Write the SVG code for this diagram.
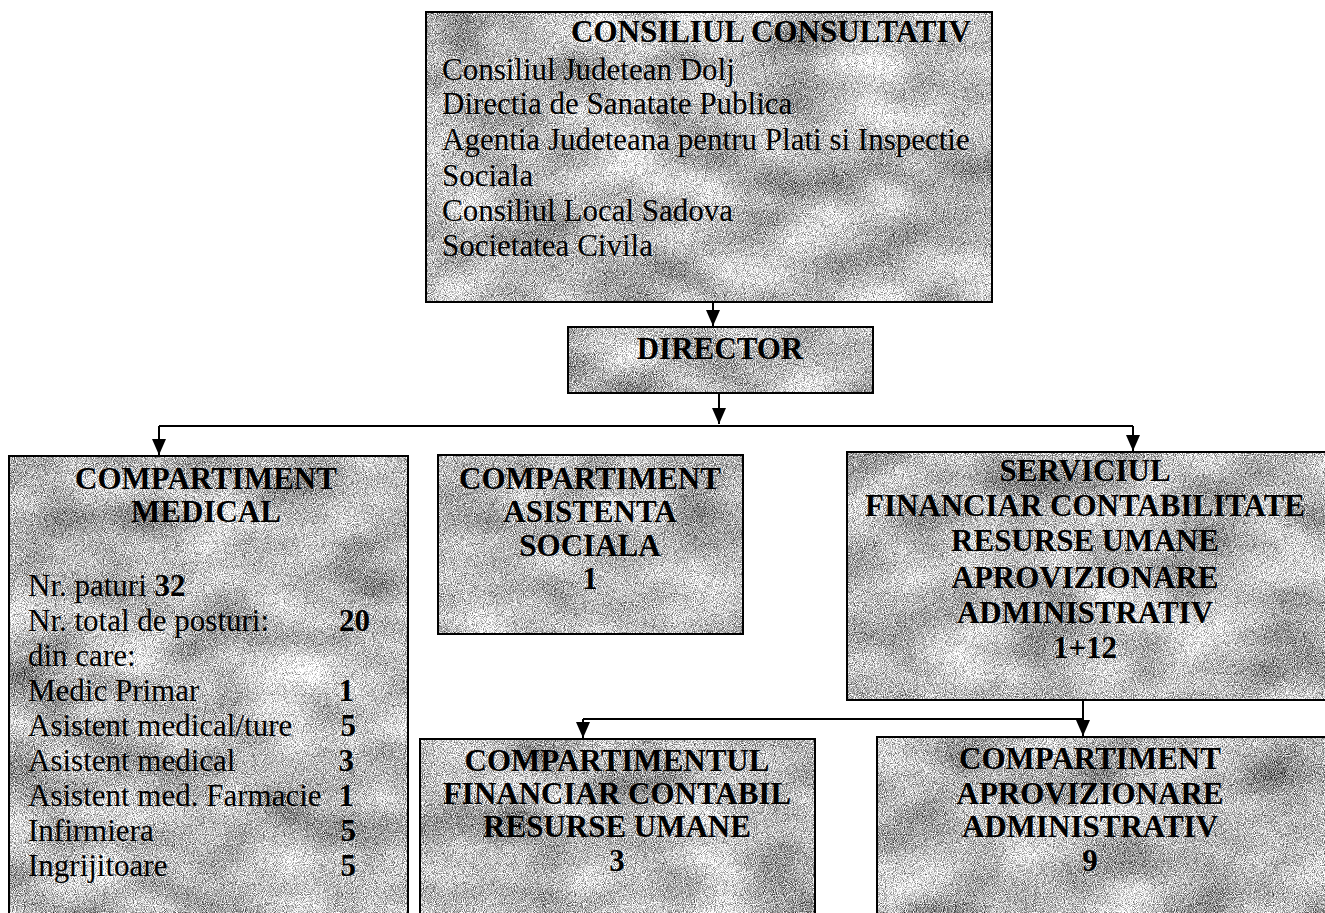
<svg xmlns="http://www.w3.org/2000/svg" width="1325" height="913" viewBox="0 0 1325 913">
<defs>
<filter id="tex" x="0" y="0" width="1" height="1" color-interpolation-filters="sRGB">
<feTurbulence type="fractalNoise" baseFrequency="1.1" numOctaves="1" seed="3" result="f0"/>
<feColorMatrix in="f0" type="matrix" values="1 0 0 0 0  1 0 0 0 0  1 0 0 0 0  0 0 0 0 1" result="fine"/>
<feTurbulence type="fractalNoise" baseFrequency="0.012 0.02" numOctaves="2" seed="7" result="c0"/>
<feColorMatrix in="c0" type="matrix" values="1 0 0 0 0  1 0 0 0 0  1 0 0 0 0  0 0 0 0 1" result="coarse"/>
<feComposite in="fine" in2="coarse" operator="arithmetic" k1="0" k2="1.8" k3="0.7" k4="-0.52" result="mix"/>
<feComposite in="mix" in2="SourceGraphic" operator="in"/>
</filter>
<marker id="ah" markerWidth="16" markerHeight="14" viewBox="0 0 16 14" refX="16" refY="7" orient="auto" markerUnits="userSpaceOnUse">
<path d="M0,0 L16,7 L0,14 Z" fill="#000"/>
</marker>
</defs>
<style>
.bg{fill:#aaa;filter:url(#tex)}
.bd{fill:none;stroke:#000;stroke-width:2}
.t{font-family:"Liberation Serif","Times New Roman",serif;font-size:31px;fill:#000}
.h{font-family:"Liberation Serif","Times New Roman",serif;font-size:31px;font-weight:bold;fill:#000;text-anchor:middle}
.c{fill:none;stroke:#000;stroke-width:2}
.n{font-weight:bold;text-anchor:end}
</style>
<rect width="1325" height="913" fill="#fff"/>

<g id="consiliul">
<rect class="bg" x="426" y="12" width="566" height="290"/>
<rect class="bd" x="426" y="12" width="566" height="290"/>
<text class="h" x="771" y="42">CONSILIUL CONSULTATIV</text>
<text class="t" x="442" y="80">Consiliul Judetean Dolj</text>
<text class="t" x="442" y="114">Directia de Sanatate Publica</text>
<text class="t" x="442" y="150">Agentia Judeteana pentru Plati si Inspectie</text>
<text class="t" x="442" y="186">Sociala</text>
<text class="t" x="442" y="221">Consiliul Local Sadova</text>
<text class="t" x="442" y="256">Societatea Civila</text>
</g>

<g id="director">
<rect class="bg" x="568" y="327" width="305" height="66"/>
<rect class="bd" x="568" y="327" width="305" height="66"/>
<text class="h" x="720" y="359">DIRECTOR</text>
</g>

<g id="medical">
<rect class="bg" x="9" y="456" width="399" height="470"/>
<rect class="bd" x="9" y="456" width="399" height="470"/>
<text class="h" x="206" y="489">COMPARTIMENT</text>
<text class="h" x="206" y="522">MEDICAL</text>
<text class="t" x="28" y="596">Nr. paturi <tspan font-weight="bold">32</tspan></text>
<text class="t" x="28" y="631">Nr. total de posturi:</text>
<text class="t n" x="370" y="631">20</text>
<text class="t" x="28" y="666">din care:</text>
<text class="t" x="28" y="701">Medic Primar</text>
<text class="t n" x="354" y="701">1</text>
<text class="t" x="28" y="736">Asistent medical/ture</text>
<text class="t n" x="356" y="736">5</text>
<text class="t" x="28" y="771">Asistent medical</text>
<text class="t n" x="354" y="771">3</text>
<text class="t" x="28" y="806">Asistent med. Farmacie</text>
<text class="t n" x="354" y="806">1</text>
<text class="t" x="28" y="841">Infirmiera</text>
<text class="t n" x="356" y="841">5</text>
<text class="t" x="28" y="876">Ingrijitoare</text>
<text class="t n" x="356" y="876">5</text>
</g>

<g id="asistenta">
<rect class="bg" x="438" y="455" width="305" height="179"/>
<rect class="bd" x="438" y="455" width="305" height="179"/>
<text class="h" x="590" y="489">COMPARTIMENT</text>
<text class="h" x="590" y="522">ASISTENTA</text>
<text class="h" x="590" y="556">SOCIALA</text>
<text class="h" x="590" y="589">1</text>
</g>

<g id="serviciul">
<rect class="bg" x="847" y="452" width="490" height="248"/>
<rect class="bd" x="847" y="452" width="490" height="248"/>
<text class="h" x="1085" y="481">SERVICIUL</text>
<text class="h" x="1085" y="516">FINANCIAR CONTABILITATE</text>
<text class="h" x="1085" y="551">RESURSE UMANE</text>
<text class="h" x="1085" y="588">APROVIZIONARE</text>
<text class="h" x="1085" y="623">ADMINISTRATIV</text>
<text class="h" x="1085" y="658">1+12</text>
</g>

<g id="financiar">
<rect class="bg" x="420" y="739" width="395" height="190"/>
<rect class="bd" x="420" y="739" width="395" height="190"/>
<text class="h" x="617" y="771">COMPARTIMENTUL</text>
<text class="h" x="617" y="804">FINANCIAR CONTABIL</text>
<text class="h" x="617" y="837">RESURSE UMANE</text>
<text class="h" x="617" y="871">3</text>
</g>

<g id="aprovizionare">
<rect class="bg" x="877" y="737" width="460" height="190"/>
<rect class="bd" x="877" y="737" width="460" height="190"/>
<text class="h" x="1090" y="769">COMPARTIMENT</text>
<text class="h" x="1090" y="804">APROVIZIONARE</text>
<text class="h" x="1090" y="837">ADMINISTRATIV</text>
<text class="h" x="1090" y="871">9</text>
</g>

<g id="connectors">
<path class="c" d="M713,302 V326" marker-end="url(#ah)"/>
<path class="c" d="M719,393 V424" marker-end="url(#ah)"/>
<path class="c" d="M159,426 H1133"/>
<path class="c" d="M159,426 V455" marker-end="url(#ah)"/>
<path class="c" d="M1133,426 V451" marker-end="url(#ah)"/>
<path class="c" d="M1083,700 V736" marker-end="url(#ah)"/>
<path class="c" d="M583,719 H1083"/>
<path class="c" d="M583,719 V738" marker-end="url(#ah)"/>
</g>
</svg>
